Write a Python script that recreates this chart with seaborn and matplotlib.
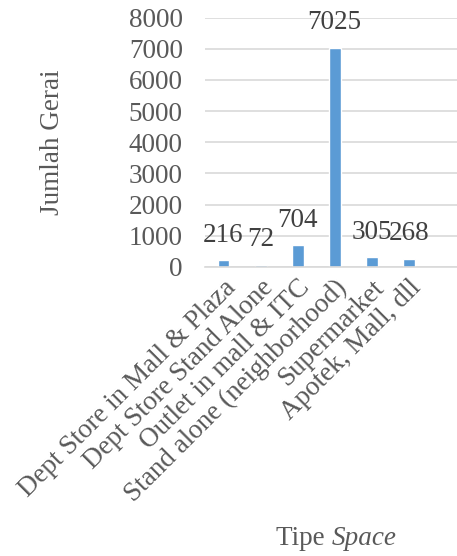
import matplotlib
matplotlib.use("Agg")
import matplotlib.pyplot as plt
import seaborn as sns
import pandas as pd

categories = ["Dept Store in Mall & Plaza", "Dept Store Stand Alone", "Outlet in mall & ITC",
              "Stand alone (neighborhood)", "Supermarket", "Apotek, Mall, dll"]
values = [216, 72, 704, 7025, 305, 268]
yticks = [0, 1000, 2000, 3000, 4000, 5000, 6000, 7000, 8000]

sns.set_theme(style="white")
plt.rcParams['font.family'] = ['Liberation Serif', 'DejaVu Serif']

df = pd.DataFrame({"cat": categories, "val": values})
FS = 19.5

fig = plt.figure(figsize=(4.57, 5.56), dpi=100)
ax = fig.add_axes([0.4486, 0.5198, 0.5514, 0.4487])
sns.barplot(data=df, x="cat", y="val", color="#5B9BD5", width=0.32, ax=ax, saturation=1)

ax.set_ylim(0, 8000)
ax.set_xlim(-0.5, 6.3)
ax.set_yticks(yticks)
ax.set_yticklabels([str(t) for t in yticks], fontsize=FS, color="#595959")
ax.yaxis.grid(True, color="#d9d9d9", linewidth=1.2)
ax.set_axisbelow(True)
for s in ["top", "right", "left"]:
    ax.spines[s].set_visible(False)
ax.spines["bottom"].set_color("#d9d9d9")
ax.spines["bottom"].set_linewidth(1.2)
ax.tick_params(axis="y", length=0, pad=16)
ax.tick_params(axis="x", length=0, pad=6)

ax.set_xticks(range(len(categories)))
ax.set_xticklabels(categories, rotation=45, ha="right", rotation_mode="anchor",
                   fontsize=FS, color="#595959")

for i, v in enumerate(values):
    ax.annotate(str(v), (i, v), xytext=(0, 9), textcoords="offset points",
                ha="center", va="bottom", fontsize=FS, color="#404040")

ax.set_ylabel("Jumlah Gerai", fontsize=FS, color="#595959", labelpad=46)
ax.set_xlabel("")
fig.text(0.725, 0.02, "Tipe ", fontsize=FS, color="#595959", ha="right", va="baseline")
fig.text(0.725, 0.02, "Space", fontsize=FS, color="#595959", ha="left", va="baseline", style="italic")

fig.savefig("out.png", dpi=100)
